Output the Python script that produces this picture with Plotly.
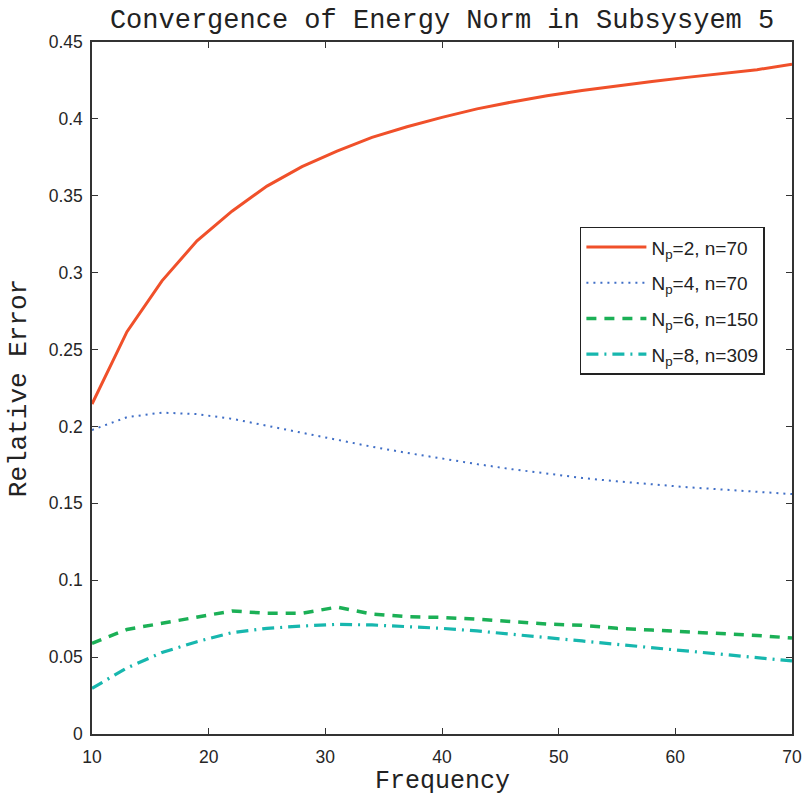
import plotly.graph_objects as go

# Frequency samples
frequency = [10, 13, 16, 19, 22, 25, 28, 31, 34, 37, 40, 43, 46, 49, 52, 55, 58, 61, 64, 67, 70]

# Relative error of the energy norm for each configuration
err_np2 = [0.2146, 0.2616, 0.2947, 0.3207, 0.3400, 0.3563, 0.3689, 0.3790, 0.3880, 0.3949, 0.4010,
           0.4065, 0.4110, 0.4150, 0.4185, 0.4215, 0.4243, 0.4270, 0.4295, 0.4320, 0.4355]
err_np4 = [0.1977, 0.2060, 0.2090, 0.2080, 0.2050, 0.2005, 0.1960, 0.1912, 0.1868, 0.1828, 0.1790,
           0.1755, 0.1722, 0.1692, 0.1665, 0.1643, 0.1622, 0.1605, 0.1590, 0.1575, 0.1560]
err_np6 = [0.0590, 0.0680, 0.0720, 0.0760, 0.0800, 0.0785, 0.0785, 0.0825, 0.0780, 0.0763, 0.0758,
           0.0747, 0.0730, 0.0715, 0.0707, 0.0687, 0.0676, 0.0665, 0.0654, 0.0641, 0.0624]
err_np8 = [0.0297, 0.0430, 0.0530, 0.0600, 0.0659, 0.0687, 0.0702, 0.0713, 0.0709, 0.0698, 0.0687,
           0.0670, 0.0650, 0.0626, 0.0605, 0.0583, 0.0561, 0.0542, 0.0518, 0.0499, 0.0475]

labels = ["N<sub>p</sub>=2, n=70", "N<sub>p</sub>=4, n=70",
          "N<sub>p</sub>=6, n=150", "N<sub>p</sub>=8, n=309"]

x_ticks = [10, 20, 30, 40, 50, 60, 70]
y_ticks = [0, 0.05, 0.1, 0.15, 0.2, 0.25, 0.3, 0.35, 0.4, 0.45]
y_ticktext = ["0", "0.05", "0.1", "0.15", "0.2", "0.25", "0.3", "0.35", "0.4", "0.45"]

styles = [
    dict(color="#F0502A", width=3, dash="solid"),
    dict(color="#3F6EC6", width=2, dash="2px,5px"),
    dict(color="#1BB056", width=3.5, dash="10px,8px"),
    dict(color="#17B7AE", width=3.2, dash="12px,6px,2px,6px"),
]

MONO = "Liberation Mono, Courier New, monospace"
SANS = "Liberation Sans, Arial, sans-serif"

fig = go.Figure()
for i, (series, name, st) in enumerate(zip([err_np2, err_np4, err_np6, err_np8], labels, styles)):
    fig.add_trace(go.Scatter(x=frequency, y=series, mode="lines", name=name, line=st,
                             legendgroup=f"g{i}"))

axis_common = dict(
    showline=True, linecolor="#333333", linewidth=1.5, mirror="ticks",
    ticks="inside", ticklen=6, tickwidth=1, tickcolor="#333333",
    showgrid=False, zeroline=False, automargin=False,
    tickfont=dict(family=SANS, size=17.5, color="#262626"),
)

fig.update_layout(
    width=803, height=797,
    margin=dict(l=92, r=11, t=42, b=63),
    paper_bgcolor="white", plot_bgcolor="white",
    title=dict(text="Convergence of Energy Norm in Subsysyem 5",
               font=dict(family=MONO, size=27, color="#222222"),
               x=0.5505, xanchor="center", y=0.977, yanchor="middle"),
    xaxis=dict(range=[10, 70], tickvals=x_ticks, ticklabelstandoff=6, **axis_common),
    yaxis=dict(range=[0, 0.45], tickvals=y_ticks, ticktext=y_ticktext, ticklabelstandoff=4,
               title=dict(text="Relative Error", font=dict(family=MONO, size=26, color="#222222")),
               **axis_common),
    legend=dict(x=0.697, y=0.733, xanchor="left", yanchor="top",
                bgcolor="white", bordercolor="#222222", borderwidth=1.5,
                font=dict(family=SANS, size=19, color="#222222"),
                itemwidth=60, tracegroupgap=8),
    showlegend=True,
)

# x-axis title placed below the tick labels
fig.add_annotation(text="Frequency", xref="paper", yref="paper", x=0.5, y=-0.068,
                   xanchor="center", yanchor="middle", showarrow=False,
                   font=dict(family=MONO, size=25, color="#222222"))

fig.write_html("out.html")
